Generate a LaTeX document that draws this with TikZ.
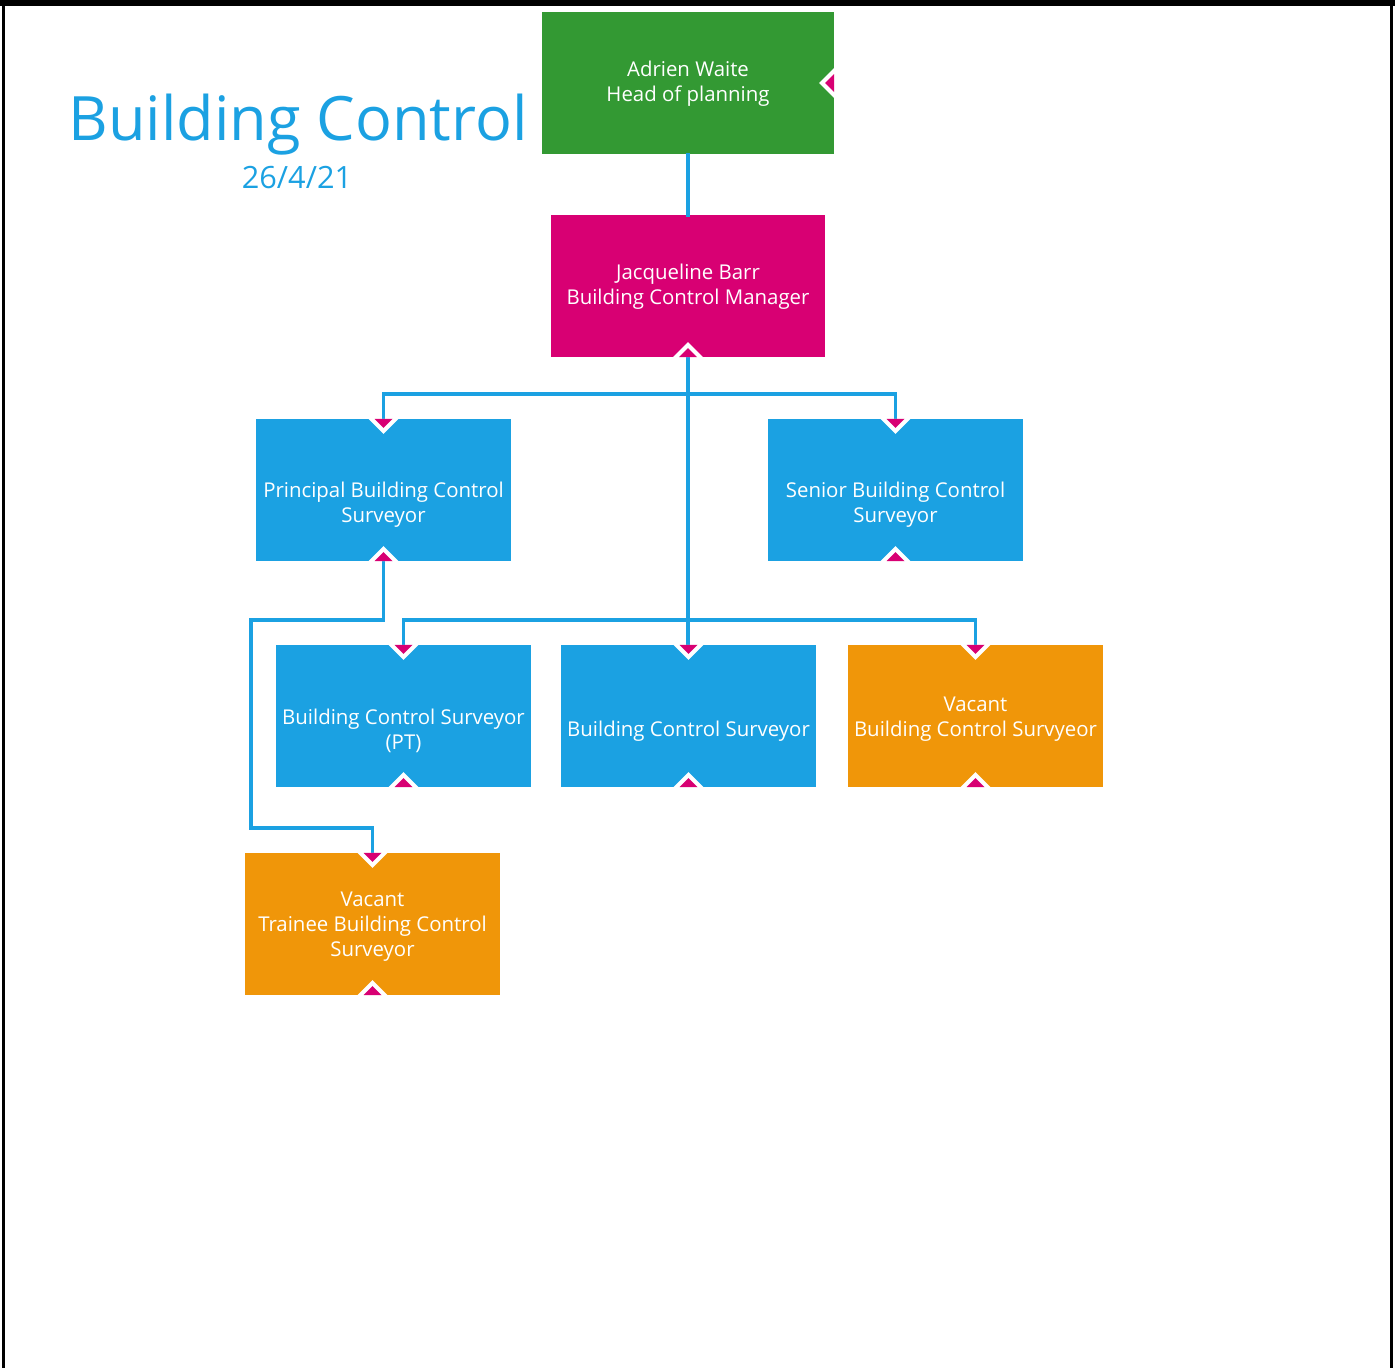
\documentclass[tikz,border=0pt]{standalone}
\usepackage{fontspec}
\setmainfont{Open Sans}
\usetikzlibrary{calc}
\definecolor{mgreen}{HTML}{339933}
\definecolor{mpink}{HTML}{D80073}
\definecolor{mblue}{HTML}{1BA1E2}
\definecolor{morange}{HTML}{F09609}
\tikzset{
  orgbox/.style={rectangle, minimum width=255pt, minimum height=142pt, inner sep=0pt,
    text=white, align=center, font=\fontsize{20.4}{25}\selectfont},
  link/.style={draw=mblue, line width=3.5pt},
}
% invisible struts opening the first line of each box text
\newcommand\firststrut{\rule{0pt}{20.5pt}}
\newcommand\namestrut{\rule{0pt}{17.5pt}}
% notch markers: white-rimmed magenta triangles sitting on a box edge
\newcommand\notchdown[1]{%
  \fill[white] (#1) ++(-15,0) -- ++(30,0) -- ++(-15,15) -- cycle;
  \fill[mpink] (#1) ++(-9,0) -- ++(18,0) -- ++(-9,9) -- cycle;}
\newcommand\notchup[1]{%
  \fill[white] (#1) ++(-15,0) -- ++(30,0) -- ++(-15,-15) -- cycle;
  \fill[mpink] (#1) ++(-9,0) -- ++(18,0) -- ++(-9,-9) -- cycle;}
\newcommand\notchleft[1]{%
  \fill[white] (#1) ++(0,-15) -- ++(0,30) -- ++(-15,-15) -- cycle;
  \fill[mpink] (#1) ++(0,-9) -- ++(0,18) -- ++(-9,-9) -- cycle;}
\begin{document}
\begin{tikzpicture}[x=1pt,y=-1pt]
\useasboundingbox (0,0) rectangle (1395,1368);
% page frame
\fill[black] (0,0) rectangle (1395,6);
\fill[black] (2,0) rectangle (5,1368);
\fill[black] (1390,0) rectangle (1393,1368);

% title
\node[anchor=base, text=mblue, font=\fontsize{61.2}{70}\selectfont, inner sep=0pt] (title) at (298,140) {Building Control};
\node[anchor=base, text=mblue, font=\fontsize{30.7}{32}\selectfont, inner sep=0pt] (date) at (297,188) {26/4/21};

% boxes (an empty first line stands where a post has no holder's name)
\node[orgbox, fill=mgreen, minimum width=292pt] (aw) at (688,83) {\namestrut Adrien Waite\\Head of planning};
\node[orgbox, fill=mpink, minimum width=274pt] (jb) at (688,286) {\namestrut Jacqueline Barr\\Building Control Manager};
\node[orgbox, fill=mblue] (pbcs) at (383.5,490) {\firststrut\\Principal Building Control\\Surveyor};
\node[orgbox, fill=mblue] (sbcs) at (895.5,490) {\firststrut\\Senior Building Control\\Surveyor};
\node[orgbox, fill=mblue] (bcspt) at (403.5,716) {\firststrut\\Building Control Surveyor\\(PT)};
\node[orgbox, fill=mblue] (bcs) at (688.5,716) {\firststrut\\Building Control Surveyor};
\node[orgbox, fill=morange] (vbcs) at (975.5,716) {\firststrut Vacant\\Building Control Survyeor};
\node[orgbox, fill=morange] (tbcs) at (372.5,924) {\firststrut Vacant\\Trainee Building Control\\Surveyor};

% connectors
\coordinate (pbend) at (251,620);
\coordinate (pdrop) at (251,828);
\draw[link] ([yshift=1pt]aw.south) -- ([yshift=-2pt]jb.north);
\draw[link] (jb.south) -- (jb.south |- bcs.north);
\draw[link] (pbcs.north) -- ++(0,-25) -| (sbcs.north);
\draw[link] (bcspt.north) -- ++(0,-25) -| (vbcs.north);
\draw[link] (pbcs.south) |- (pbend) -- (pdrop) -| (tbcs.north);

% notches
\notchleft{aw.east}
\notchup{jb.south}
\foreach \n in {pbcs,sbcs,bcspt,bcs,vbcs,tbcs}{
  \notchdown{\n.north}
  \notchup{\n.south}
}
\end{tikzpicture}
\end{document}
